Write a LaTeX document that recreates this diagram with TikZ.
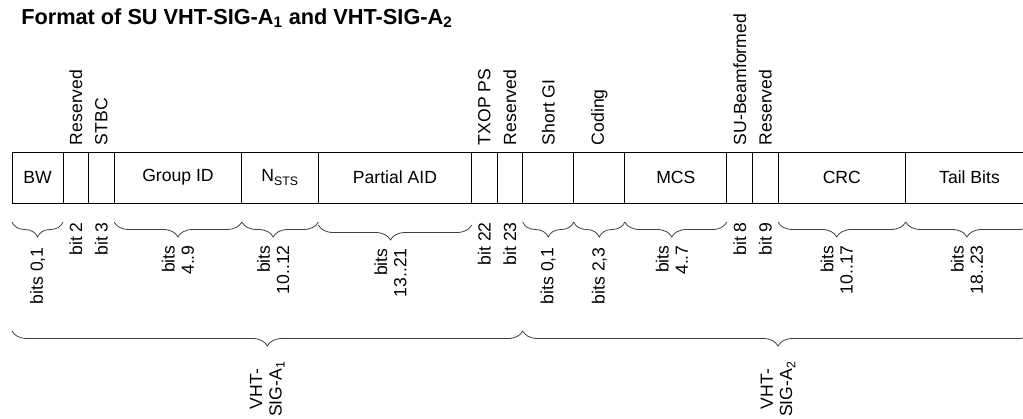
\documentclass[tikz,border=0pt]{standalone}
\usepackage{fontspec}
\setmainfont{Liberation Sans}
\usetikzlibrary{positioning, decorations.pathreplacing}

\begin{document}
\begin{tikzpicture}[
    x=0.75pt, y=-0.75pt,
    lblfont/.style={font=\fontsize{13.2}{14.5}\selectfont},
    field/.style={rectangle, draw, line width=0.75pt, minimum width=#1*19.15pt,
                  minimum height=38.25pt, inner sep=0pt, outer sep=0pt, lblfont},
    toplbl/.style={rotate=90, anchor=west, inner sep=0pt, lblfont},
    bitlbl/.style={rotate=90, anchor=east, inner sep=0pt, lblfont},
    brc/.style={decorate, decoration={brace, mirror, amplitude=11.25pt, aspect=#1},
                draw=black!75, line width=0.6pt},
    brc/.default=0.5,
    brlbl/.style={yshift=#1, rotate=90, anchor=east, inner sep=0pt, align=right, lblfont},
    brlbl/.default=-17.25pt,
]
\useasboundingbox (0,0) rectangle (1023,418);

% Title
\node[anchor=base west, inner sep=0pt, font=\fontsize{16.3}{19}\bfseries\selectfont] (title) at (21,24.5)
    {Format of SU VHT-SIG-A\textsubscript{1} and VHT-SIG-A\textsubscript{2}};

% Fields of VHT-SIG-A1
\node[field=2, anchor=west] (bw) at (12,177.5) {BW};
\node[field=1, right=0pt of bw] (rsvA) {};
\node[field=1, right=0pt of rsvA] (stbc) {};
\node[field=5, right=0pt of stbc] (gid) {Group ID};
\node[field=3, right=0pt of gid] (nsts) {N\textsubscript{STS}};
\node[field=6, right=0pt of nsts] (paid) {Partial AID};
\node[field=1, right=0pt of paid] (txop) {};
\node[field=1, right=0pt of txop] (rsvB) {};

% Fields of VHT-SIG-A2
\node[field=2, right=0pt of rsvB] (sgi) {};
\node[field=2, right=0pt of sgi] (cod) {};
\node[field=4, right=0pt of cod] (mcs) {MCS};
\node[field=1, right=0pt of mcs] (subf) {};
\node[field=1, right=0pt of subf] (rsvC) {};
\node[field=5, right=0pt of rsvC] (crc) {CRC};
\node[field=5, right=0pt of crc] (tail) {Tail Bits};

% Labels above the one-bit fields
\node[toplbl] (trsvA) at ([yshift=5pt]rsvA.north) {Reserved};
\node[toplbl] (tstbc) at ([yshift=5pt]stbc.north) {STBC};
\node[toplbl] (ttxop) at ([yshift=5pt]txop.north) {TXOP PS};
\node[toplbl] (trsvB) at ([yshift=5pt]rsvB.north) {Reserved};
\node[toplbl] (tsgi) at ([yshift=5pt]sgi.north) {Short GI};
\node[toplbl] (tcod) at ([yshift=5pt]cod.north) {Coding};
\node[toplbl] (tsubf) at ([yshift=5pt]subf.north) {SU-Beamformed};
\node[toplbl] (trsvC) at ([yshift=5pt]rsvC.north) {Reserved};

% Bit numbers of the one-bit fields
\node[bitlbl] (brsvA) at ([yshift=-14.25pt]rsvA.south) {bit 2};
\node[bitlbl] (bstbc) at ([yshift=-14.25pt]stbc.south) {bit 3};
\node[bitlbl] (btxop) at ([yshift=-14.25pt]txop.south) {bit 22};
\node[bitlbl] (brsvB) at ([yshift=-14.25pt]rsvB.south) {bit 23};
\node[bitlbl] (bsubf) at ([yshift=-14.25pt]subf.south) {bit 8};
\node[bitlbl] (brsvC) at ([yshift=-14.25pt]rsvC.south) {bit 9};

% Braces under the wider fields
\draw[brc] ([yshift=-14.25pt]bw.south west) -- ([yshift=-14.25pt]bw.south east)
    node[pos=0.5, brlbl=-18.75pt] {bits 0,1};
\draw[brc] ([yshift=-14.25pt]gid.south west) -- ([yshift=-14.25pt]gid.south east)
    node[pos=0.5, brlbl] {bits\\4..9};
\draw[brc=0.41] ([yshift=-14.25pt]nsts.south west) -- ([yshift=-14.25pt]nsts.south east)
    node[pos=0.41, brlbl] {bits\\10..12};
\draw[brc=0.47] ([yshift=-16.5pt]paid.south west) -- ([yshift=-16.5pt]paid.south east)
    node[pos=0.47, brlbl] {bits\\13..21};
\draw[brc] ([yshift=-14.25pt]sgi.south west) -- ([yshift=-14.25pt]sgi.south east)
    node[pos=0.5, brlbl=-18.75pt] {bits 0,1};
\draw[brc] ([yshift=-14.25pt]cod.south west) -- ([yshift=-14.25pt]cod.south east)
    node[pos=0.5, brlbl=-18.75pt] {bits 2,3};
\draw[brc=0.46] ([yshift=-14.25pt]mcs.south west) -- ([yshift=-14.25pt]mcs.south east)
    node[pos=0.46, brlbl] {bits\\4..7};
\draw[brc=0.46] ([yshift=-14.25pt]crc.south west) -- ([yshift=-14.25pt]crc.south east)
    node[pos=0.46, brlbl] {bits\\10..17};
\draw[brc=0.48] ([yshift=-14.25pt]tail.south west) -- ([yshift=-14.25pt]tail.south east)
    node[pos=0.48, brlbl] {bits\\18..23};

% Braces of the two symbols
\draw[brc] ([yshift=-96pt]bw.south west) -- ([yshift=-96pt]rsvB.south east)
    node[pos=0.5, yshift=-22.5pt, rotate=90, anchor=east, inner sep=0pt, align=center, lblfont]
    (siga1) {VHT-\\SIG-A\textsubscript{1}};
\draw[brc] ([yshift=-96pt]sgi.south west) -- ([yshift=-96pt]tail.south east)
    node[pos=0.5, yshift=-22.5pt, rotate=90, anchor=east, inner sep=0pt, align=center, lblfont]
    (siga2) {VHT-\\SIG-A\textsubscript{2}};

\end{tikzpicture}
\end{document}
